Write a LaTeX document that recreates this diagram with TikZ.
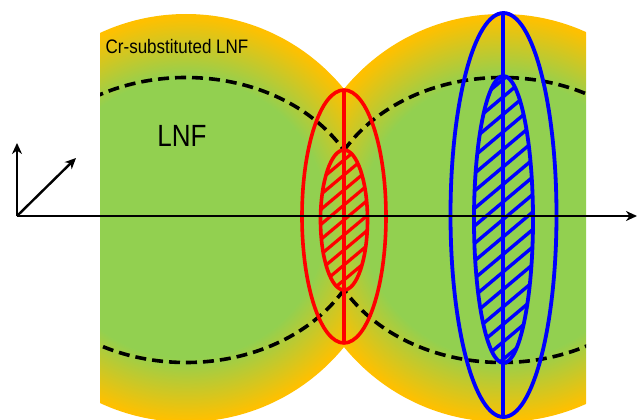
\documentclass[tikz,border=0pt]{standalone}
\usepackage{fontspec}
\setmainfont{Liberation Sans}
\usetikzlibrary{arrows.meta}
\definecolor{lnfgreen}{HTML}{92D050}
\definecolor{lnforange}{HTML}{FFC000}
\pgfdeclareradialshading{lnfshade}{\pgfpoint{0pt}{0pt}}{color(0pt)=(lnfgreen); color(140pt)=(lnfgreen); color(202pt)=(lnforange); color(260pt)=(lnforange)}
\tikzset{
  boundary/.style={black, line width=3.6pt, dash pattern=on 11pt off 6pt},
  redline/.style={red, line width=3.6pt},
  blueline/.style={blue, line width=3.8pt},
  hatchred/.style={red, line width=3.2pt},
  hatchblue/.style={blue, line width=3.4pt},
  axis/.style={black, line width=2.4pt, -{Stealth[length=11pt,width=10pt,inset=3.5pt]}},
  label/.style={inner sep=0pt, anchor=center}
}
\begin{document}
\begin{tikzpicture}[x=1pt,y=-1pt]
\useasboundingbox (0,0) rectangle (638,420);
% left grain
\begin{scope}
  \clip (100,0) rectangle (344,420);
  \clip (186,218) circle (204pt);
  \node[inner sep=0pt, outer sep=0pt] (shL) at (186,218) {\pgfuseshading{lnfshade}};
  \draw[boundary] (186,220) ellipse [x radius=181pt, y radius=142.5pt];
\end{scope}
% right grain
\begin{scope}
  \clip (344,0) rectangle (586,420);
  \clip (502,218) circle (204pt);
  \node[inner sep=0pt, outer sep=0pt] (shR) at (502,218) {\pgfuseshading{lnfshade}};
  \draw[boundary] (502,220) ellipse [x radius=181pt, y radius=142.5pt];
\end{scope}
% red hatched ellipse
\begin{scope}
  \clip (344,220) ellipse [x radius=23.5pt, y radius=70pt];
  \foreach \k in {-8,...,8}
    \draw[hatchred] (264,220+\k*15+80*0.84) -- (424,220+\k*15-80*0.84);
\end{scope}
\draw[redline] (344,220) ellipse [x radius=23.5pt, y radius=70pt];
\draw[redline] (344,216.5) ellipse [x radius=42pt, y radius=126.5pt];
\coordinate (rtop) at (344,90);
\coordinate (rbot) at (344,343);
\draw[redline] (rtop) -- (rbot);
% blue hatched ellipse
\begin{scope}
  \clip (503.5,219.5) ellipse [x radius=29.5pt, y radius=143.5pt];
  \foreach \k in {-12,...,12}
    \draw[hatchblue] (423,219.5+\k*17.5+80*0.84) -- (583,219.5+\k*17.5-80*0.84);
\end{scope}
\draw[blueline] (503.5,219.5) ellipse [x radius=29.5pt, y radius=143.5pt];
\draw[blueline] (503.5,215) ellipse [x radius=53pt, y radius=202pt];
\coordinate (btop) at (503,13);
\coordinate (bbot) at (503,417);
\draw[blueline] (btop) -- (bbot);
% axes
\coordinate (O) at (17,216);
\coordinate (ytip) at (17,143);
\coordinate (dtip) at (76,158);
\coordinate (xtip) at (637,216);
\draw[axis] (O) -- (ytip);
\draw[axis] (O) -- (dtip);
\draw[axis, line width=2pt] (O) -- (xtip);
% labels
\node[label] (cr) at (177,47) {\fontsize{17}{20}\selectfont\scalebox{1}[1.15]{Cr-substituted LNF}};
\node[label] (lnf) at (182,136) {\fontsize{26}{30}\selectfont\scalebox{1}[1.18]{LNF}};
\end{tikzpicture}
\end{document}
